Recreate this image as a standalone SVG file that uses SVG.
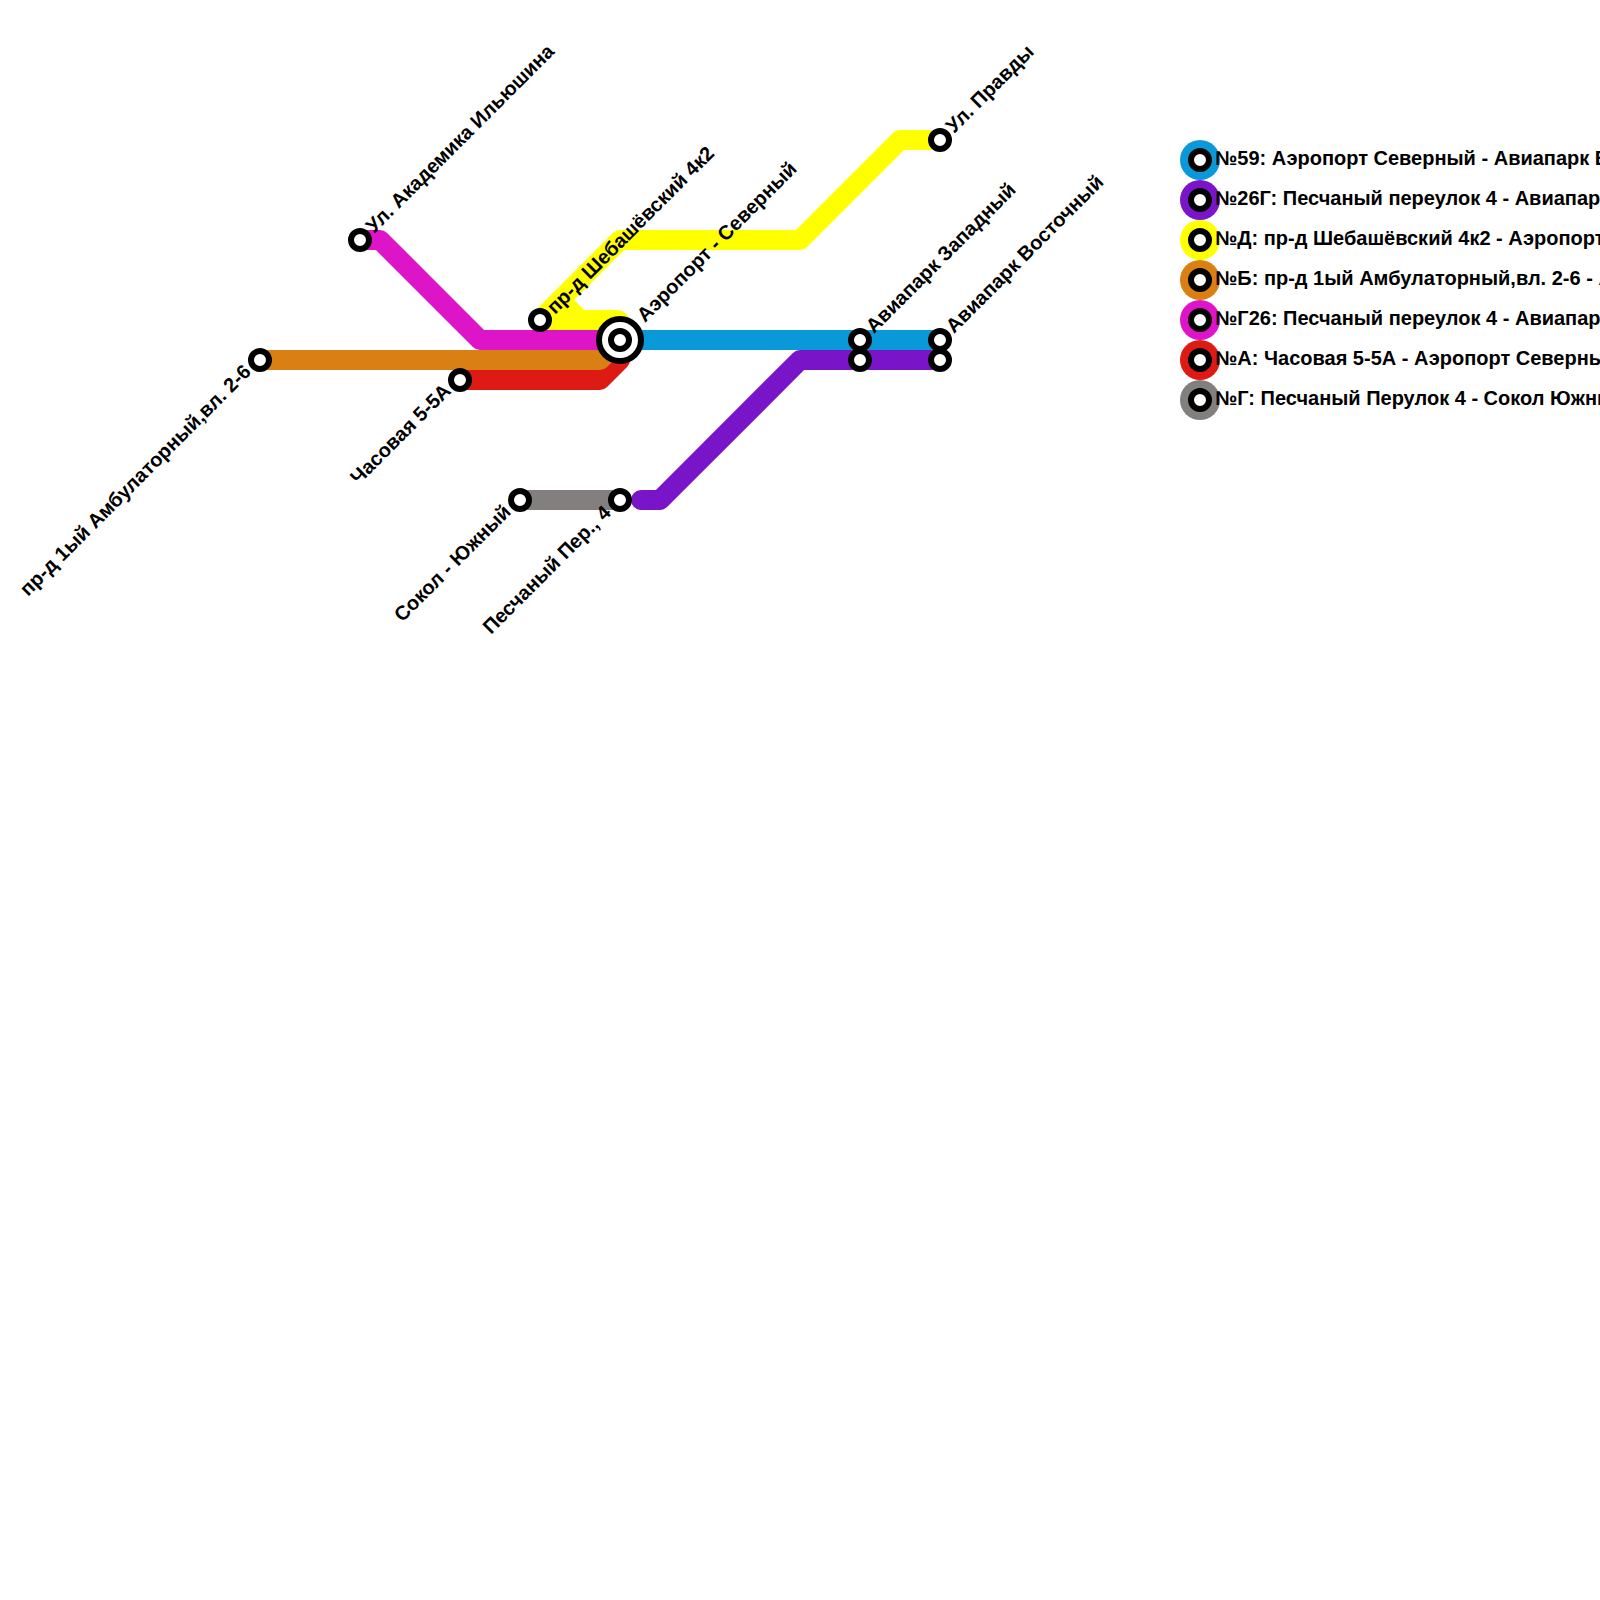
<svg xmlns="http://www.w3.org/2000/svg" width="1600" height="1600" viewBox="0 0 1600 1600">
<style>
.ln{fill:none;stroke-width:20;stroke-linejoin:round;stroke-linecap:round}
.st{fill:#fff;stroke:#000;stroke-width:6}
.t{font-family:"Liberation Sans",Arial,sans-serif;font-weight:bold;font-size:20px;fill:#000}
.e{text-anchor:end}
</style>
<rect width="1600" height="1600" fill="#fff"/>
<g id="connectors">
<path class="ln" stroke="#ffff00" d="M540 320L620 240H800L900 140H940"/>
<path class="ln" stroke="#ffff00" d="M540 320H618L620 322V340M560 300L580 320"/>
<path class="ln" stroke="#dd1a14" d="M460 380H600L620 360V340"/>
<path class="ln" stroke="#da7f14" d="M260 360H600L620 340"/>
<path class="ln" stroke="#dd14c8" d="M360 240H380L480 340H620"/>
<path class="ln" stroke="#0a99d8" d="M620 340H940"/>
<path class="ln" stroke="#7a14c8" d="M641 500H660L800 360H940"/>
<path class="ln" stroke="#847f7f" stroke-linecap="butt" d="M520 500H620"/>
</g>
<g id="stop-pravdy"><circle class="st" cx="940" cy="140" r="9"/><text class="t" transform="translate(954 134) rotate(-45)">Ул. Правды</text></g>
<g id="stop-ilyushina"><circle class="st" cx="360" cy="240" r="9"/><text class="t" transform="translate(374 234) rotate(-45)">Ул. Академика Ильюшина</text></g>
<g id="stop-shebashev"><circle class="st" cx="540" cy="320" r="9"/><text class="t" transform="translate(555 315) rotate(-45)">пр-д Шебашёвский 4к2</text></g>
<g id="stop-aeroport"><circle class="st" cx="620" cy="340" r="21"/><circle class="st" cx="620" cy="340" r="9"/><text class="t" transform="translate(645 323) rotate(-45)">Аэропорт - Северный</text></g>
<g id="stop-avia-west"><circle class="st" cx="860" cy="340" r="9"/><text class="t" transform="translate(874 334) rotate(-45)">Авиапарк Западный</text></g>
<g id="stop-avia-west2"><circle class="st" cx="860" cy="360" r="9"/></g>
<g id="stop-avia-east"><circle class="st" cx="940" cy="340" r="9"/><text class="t" transform="translate(954 334) rotate(-45)">Авиапарк Восточный</text></g>
<g id="stop-avia-east2"><circle class="st" cx="940" cy="360" r="9"/></g>
<g id="stop-amb"><circle class="st" cx="260" cy="360" r="9"/><text class="t e" transform="translate(252 373) rotate(-45)">пр-д 1ый Амбулаторный,вл. 2-6</text></g>
<g id="stop-chasovaya"><circle class="st" cx="460" cy="380" r="9"/><text class="t e" transform="translate(452 392) rotate(-45)">Часовая 5-5А</text></g>
<g id="stop-sokol"><circle class="st" cx="520" cy="500" r="9"/><text class="t e" transform="translate(512 513) rotate(-45)">Сокол - Южный</text></g>
<g id="stop-peschany"><circle class="st" cx="620" cy="500" r="9"/><text class="t e" transform="translate(612 514) rotate(-45)">Песчаный Пер., 4</text></g>
<g id="legend-59"><circle cx="1200" cy="160" r="20" fill="#0a99d8"/><circle class="st" cx="1200" cy="160" r="9"/><text class="t" x="1215" y="165">№59: Аэропорт Северный - Авиапарк Восточный</text></g>
<g id="legend-26g"><circle cx="1200" cy="200" r="20" fill="#7a14c8"/><circle class="st" cx="1200" cy="200" r="9"/><text class="t" x="1215" y="205">№26Г: Песчаный переулок 4 - Авиапарк Восточный</text></g>
<g id="legend-d"><circle cx="1200" cy="240" r="20" fill="#ffff00"/><circle class="st" cx="1200" cy="240" r="9"/><text class="t" x="1215" y="245">№Д: пр-д Шебашёвский 4к2 - Аэропорт Северный</text></g>
<g id="legend-b"><circle cx="1200" cy="280" r="20" fill="#da7f14"/><circle class="st" cx="1200" cy="280" r="9"/><text class="t" x="1215" y="285">№Б: пр-д 1ый Амбулаторный,вл. 2-6 - Аэропорт Северный</text></g>
<g id="legend-g26"><circle cx="1200" cy="320" r="20" fill="#dd14c8"/><circle class="st" cx="1200" cy="320" r="9"/><text class="t" x="1215" y="325">№Г26: Песчаный переулок 4 - Авиапарк Западный</text></g>
<g id="legend-a"><circle cx="1200" cy="360" r="20" fill="#dd1a14"/><circle class="st" cx="1200" cy="360" r="9"/><text class="t" x="1215" y="365">№А: Часовая 5-5А - Аэропорт Северный</text></g>
<g id="legend-g"><circle cx="1200" cy="400" r="20" fill="#847f7f"/><circle class="st" cx="1200" cy="400" r="9"/><text class="t" x="1215" y="405">№Г: Песчаный Перулок 4 - Сокол Южный</text></g>
</svg>
